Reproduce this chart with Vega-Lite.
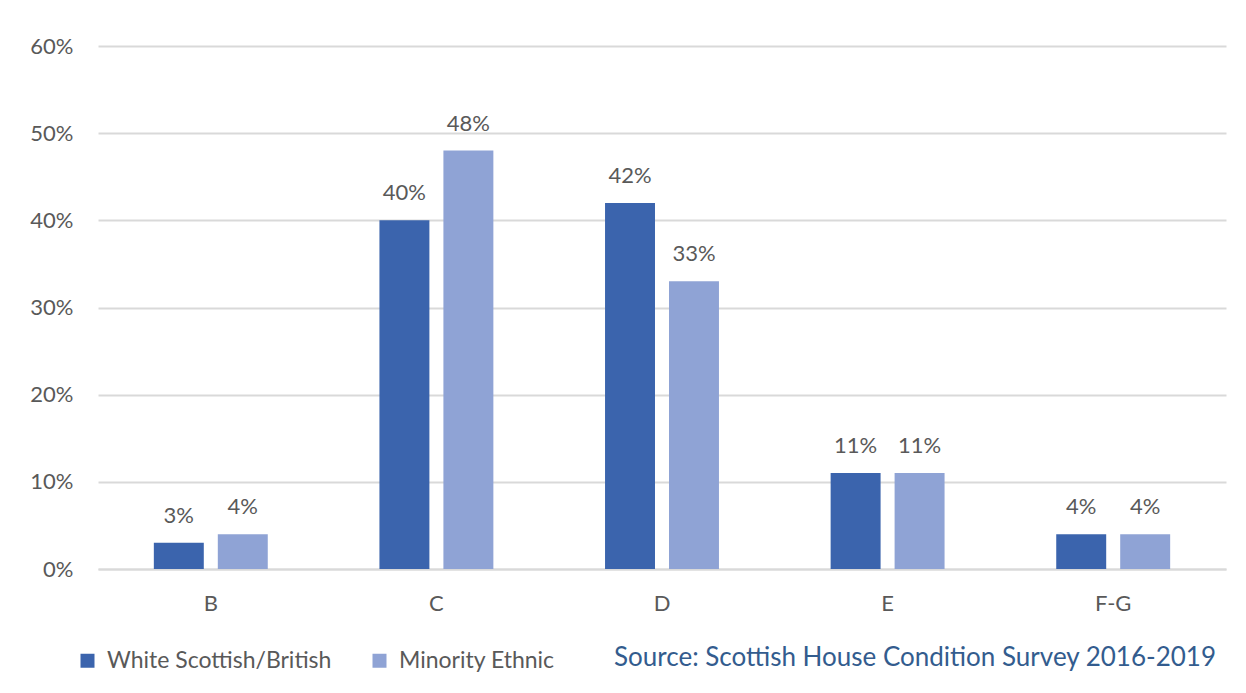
{
  "$schema": "https://vega.github.io/schema/vega-lite/v6.json",
  "width": 1128,
  "height": 523,
  "autosize": {"type": "none"},
  "padding": {"left": 98, "top": 46, "right": 20, "bottom": 124},
  "background": "white",
  "config": {
    "font": "Lato",
    "view": {"stroke": null}
  },
  "title": {
    "text": "Source: Scottish House Condition Survey 2016-2019",
    "orient": "bottom",
    "anchor": "end",
    "frame": "group",
    "dx": -10,
    "offset": -28,
    "fontSize": 26,
    "fontWeight": "normal",
    "color": "#335C8E",
    "font": "Lato"
  },
  "data": {
    "values": [
      {"band": "B", "group": "White Scottish/British", "share": 0.03},
      {"band": "B", "group": "Minority Ethnic", "share": 0.04},
      {"band": "C", "group": "White Scottish/British", "share": 0.40},
      {"band": "C", "group": "Minority Ethnic", "share": 0.48},
      {"band": "D", "group": "White Scottish/British", "share": 0.42},
      {"band": "D", "group": "Minority Ethnic", "share": 0.33},
      {"band": "E", "group": "White Scottish/British", "share": 0.11},
      {"band": "E", "group": "Minority Ethnic", "share": 0.11},
      {"band": "F-G", "group": "White Scottish/British", "share": 0.04},
      {"band": "F-G", "group": "Minority Ethnic", "share": 0.04}
    ]
  },
  "encoding": {
    "x": {
      "field": "band",
      "type": "nominal",
      "sort": ["B", "C", "D", "E", "F-G"],
      "scale": {"paddingInner": 0.495, "paddingOuter": 0.2475},
      "axis": {
        "title": null,
        "labelAngle": 0,
        "labelFontSize": 22,
        "labelColor": "#595959",
        "labelPadding": 24,
        "ticks": false,
        "domainColor": "#D9D9D9",
        "domainWidth": 2
      }
    },
    "xOffset": {
      "field": "group",
      "type": "nominal",
      "sort": ["White Scottish/British", "Minority Ethnic"],
      "scale": {"paddingInner": 0.219, "paddingOuter": 0}
    },
    "y": {
      "field": "share",
      "type": "quantitative",
      "scale": {"domain": [0, 0.6], "nice": false},
      "axis": {
        "title": null,
        "format": ".0%",
        "values": [0, 0.1, 0.2, 0.3, 0.4, 0.5, 0.6],
        "labelOverlap": false,
        "labelFontSize": 22,
        "labelColor": "#595959",
        "labelPadding": 25,
        "ticks": false,
        "domain": false,
        "gridColor": "#D9D9D9",
        "gridWidth": 2
      }
    }
  },
  "layer": [
    {
      "mark": {"type": "bar"},
      "encoding": {
        "color": {
          "field": "group",
          "type": "nominal",
          "sort": ["White Scottish/British", "Minority Ethnic"],
          "scale": {"domain": ["White Scottish/British", "Minority Ethnic"], "range": ["#3B64AD", "#8FA3D5"]},
          "legend": {
            "title": null,
            "orient": "none",
            "legendX": -22,
            "legendY": 603,
            "direction": "horizontal",
            "symbolType": "square",
            "symbolSize": 196,
            "symbolStrokeWidth": 0,
            "labelFontSize": 23,
            "labelLimit": 0,
            "labelColor": "#595959",
            "labelOffset": 8,
            "columnPadding": 36
          }
        }
      }
    },
    {
      "mark": {"type": "text", "baseline": "bottom", "dy": -15, "fontSize": 22, "color": "#595959"},
      "encoding": {
        "text": {"field": "share", "type": "quantitative", "format": ".0%"}
      }
    }
  ]
}
